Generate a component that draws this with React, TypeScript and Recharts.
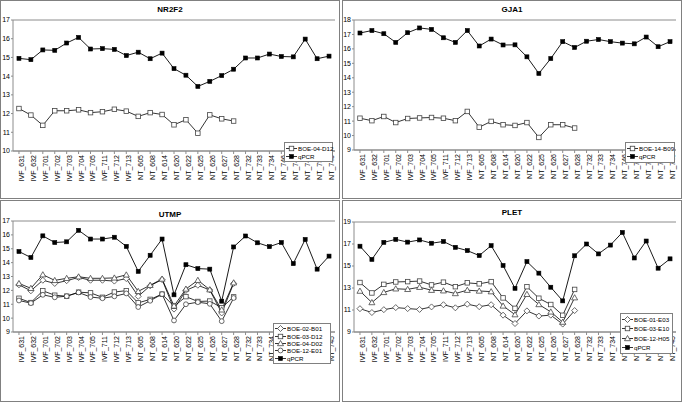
import React from 'react';
import {
  LineChart,
  Line,
  XAxis,
  YAxis,
  CartesianGrid,
  Legend,
} from 'recharts';

const categories = [
  'IVF_631', 'IVF_632', 'IVF_701', 'IVF_702', 'IVF_703', 'IVF_704', 'IVF_705',
  'IVF_711', 'IVF_712', 'IVF_713', 'NT_605', 'NT_608', 'NT_614', 'NT_620',
  'NT_622', 'NT_625', 'NT_626', 'NT_627', 'NT_628', 'NT_732', 'NT_733',
  'NT_734', 'NT_746', 'NT_747', 'NT_749', 'NT_750', 'NT_745',
];

// NR2F2
const nr2f2Qpcr = [
  14.95, 14.88, 15.4, 15.38, 15.77, 16.07, 15.45, 15.47, 15.43, 15.1, 15.28, 14.93, 15.23, 14.4,
  14.05, 13.45, 13.72, 14.03, 14.37, 14.97, 14.97, 15.18, 15.05, 15.03, 15.98, 14.93, 15.07,
];
const nr2f2Boe04D12 = [
  12.27, 11.92, 11.37, 12.15, 12.15, 12.2, 12.05, 12.1, 12.23, 12.13, 11.85, 12.05, 11.95, 11.4,
  11.67, 10.95, 11.93, 11.72, 11.6,
];

// GJA1
const gja1Qpcr = [
  17.1, 17.27, 17.05, 16.45, 17.12, 17.45, 17.35, 16.77, 16.45, 17.27, 16.2, 16.68, 16.27, 16.28,
  15.45, 14.3, 15.33, 16.5, 16.1, 16.53, 16.65, 16.5, 16.4, 16.35, 16.82, 16.15, 16.5,
];
const gja1Boe14B09 = [
  11.2, 11.03, 11.32, 10.9, 11.18, 11.22, 11.25, 11.2, 11.03, 11.67, 10.58, 10.98, 10.75, 10.7,
  10.9, 9.87, 10.75, 10.75, 10.52,
];

// UTMP
const utmpQpcr = [
  14.8, 14.37, 15.93, 15.45, 15.5, 16.33, 15.7, 15.7, 15.83, 15.17, 13.37, 14.53, 15.7, 11.68,
  13.85, 13.57, 13.53, 11.22, 15.13, 15.92, 15.43, 15.15, 15.45, 13.93, 15.67, 13.53, 14.47,
];
const utmpBoe02B01 = [
  12.4, 11.97, 12.73, 12.5, 12.7, 12.93, 12.73, 12.73, 12.67, 12.85, 11.57, 12.33, 12.78, 10.65,
  12.0, 12.37, 12.03, 10.37, 12.5,
];
const utmpBoe03D12 = [
  11.43, 11.12, 11.97, 11.65, 11.58, 11.87, 11.82, 11.5, 11.88, 11.98, 11.1, 11.35, 11.73, 10.85,
  11.55, 11.2, 11.23, 10.75, 11.53,
];
const utmpBoe04D02 = [
  12.5, 12.15, 13.13, 12.72, 12.87, 12.98, 12.87, 12.87, 12.9, 13.12, 11.93, 12.37, 12.82, 10.88,
  12.1, 12.73, 12.05, 10.6, 12.55,
];
const utmpBoe12E01 = [
  11.27, 11.08, 11.68, 11.5, 11.58, 11.85, 11.52, 11.43, 11.57, 11.78, 10.8, 11.25, 11.73, 9.83,
  11.0, 11.15, 11.03, 9.78, 11.45,
];

// PLET
const pletQpcr = [
  16.8, 15.6, 17.15, 17.42, 17.17, 17.37, 17.07, 17.23, 16.7, 16.4, 15.95, 16.85, 15.05, 12.97,
  15.4, 14.35, 13.07, 11.83, 15.93, 17.0, 16.1, 16.9, 18.05, 15.73, 17.27, 14.8, 15.65,
];
const pletBoe01E03 = [
  11.12, 10.77, 11.03, 11.22, 11.13, 11.05, 11.28, 11.48, 11.2, 11.53, 11.3, 11.48, 10.53, 9.77,
  10.92, 10.45, 10.53, 9.72, 10.95,
];
const pletBoe03E10 = [
  13.5, 12.55, 13.33, 13.55, 13.58, 13.63, 13.28, 13.53, 13.12, 13.47, 13.38, 13.58, 12.1, 11.15,
  13.12, 12.07, 11.5, 10.52, 12.87,
];
const pletBoe12H05 = [
  12.72, 11.68, 12.6, 12.93, 12.88, 13.07, 12.8, 12.75, 12.5, 12.8, 12.73, 12.67, 11.37, 10.58,
  12.43, 11.5, 10.83, 9.9, 12.12,
];

type Shape = 'square' | 'diamond' | 'triangle' | 'circle';

interface Series {
  name: string;
  values: number[];
  shape: Shape;
  filled: boolean;
}

const FONT = '"Liberation Sans", Arial, sans-serif';
const GRID = '#8c8c8c';

const Marker = ({ cx, cy, shape, filled }: { cx: number; cy: number; shape: Shape; filled: boolean }) => {
  const fill = filled ? '#000' : '#fff';
  const stroke = filled ? '#000' : '#444';
  if (shape === 'square') {
    const s = filled ? 4 : 4.5;
    return <rect x={cx - s / 2} y={cy - s / 2} width={s} height={s} fill={fill} stroke={stroke} strokeWidth={filled ? 0.6 : 0.8} />;
  }
  if (shape === 'diamond') {
    return (
      <polygon
        points={`${cx},${cy - 3} ${cx + 3},${cy} ${cx},${cy + 3} ${cx - 3},${cy}`}
        fill={fill}
        stroke={stroke}
        strokeWidth={0.8}
      />
    );
  }
  if (shape === 'triangle') {
    return (
      <polygon
        points={`${cx},${cy - 3} ${cx + 3},${cy + 2.2} ${cx - 3},${cy + 2.2}`}
        fill={fill}
        stroke={stroke}
        strokeWidth={0.8}
      />
    );
  }
  return <circle cx={cx} cy={cy} r={2.4} fill={fill} stroke={stroke} strokeWidth={0.8} />;
};

const makeDot = (shape: Shape, filled: boolean) => (p: any) => {
  if (p.cx == null || p.cy == null || p.value == null || Number.isNaN(p.cy)) {
    return <g key={`d-${p.index}`} />;
  }
  return (
    <g key={`d-${p.index}`}>
      <Marker cx={p.cx} cy={p.cy} shape={shape} filled={filled} />
    </g>
  );
};

interface PanelProps {
  left: number;
  top: number;
  width: number;
  height: number;
  title: string;
  titleY: number;
  domain: [number, number];
  series: Series[];
  plotLeft: number;
  plotTop: number;
  plotBottom: number;
  plotRight: number;
  legendBox: { x: number; y: number; w: number; h: number };
}

const Panel: React.FC<PanelProps> = ({
  left, top, width, height, title, titleY, domain, series,
  plotLeft, plotTop, plotBottom, plotRight, legendBox,
}) => {
  const chartW = width - 2;
  const chartH = height - 2;
  const data = categories.map((c, i) => {
    const row: Record<string, string | number | null> = { name: c };
    series.forEach((s) => {
      row[s.name] = i < s.values.length ? s.values[i] : null;
    });
    return row;
  });
  const ticks: number[] = [];
  for (let v = domain[0]; v <= domain[1]; v++) ticks.push(v);

  const renderLegend = () => (
    <div
      style={{
        width: legendBox.w,
        height: legendBox.h,
        border: '1px solid #808080',
        background: '#fff',
        boxSizing: 'border-box',
        padding: '1px 1px',
        display: 'flex',
        flexDirection: 'column',
        justifyContent: 'space-around',
      }}
    >
      {series.map((s) => (
        <div
          key={s.name}
          style={{
            display: 'flex',
            alignItems: 'center',
            fontSize: 6.2,
            fontFamily: FONT,
            lineHeight: '7px',
            whiteSpace: 'nowrap',
          }}
        >
          <svg width={11} height={7} style={{ marginRight: 1, flex: 'none' }}>
            <line x1={0} y1={3.5} x2={11} y2={3.5} stroke="#000" strokeWidth={0.8} />
            <Marker cx={5.5} cy={3.5} shape={s.shape} filled={s.filled} />
          </svg>
          <span>{s.name}</span>
        </div>
      ))}
    </div>
  );

  return (
    <div
      style={{
        position: 'absolute',
        left,
        top,
        width,
        height,
        border: '1px solid #808080',
        boxSizing: 'border-box',
        background: '#fff',
      }}
    >
      <div
        style={{
          position: 'absolute',
          left: 0,
          width: chartW,
          top: titleY - 5,
          textAlign: 'center',
          fontFamily: FONT,
          fontWeight: 'bold',
          fontSize: 8,
          lineHeight: '10px',
        }}
      >
        {title}
      </div>
      <LineChart
        width={chartW}
        height={chartH}
        data={data}
        margin={{ top: plotTop, right: chartW - plotRight, left: 0, bottom: 0 }}
      >
        <CartesianGrid stroke={GRID} vertical={false} horizontal />
        <XAxis
          dataKey="name"
          scale="band"
          interval={0}
          height={chartH - plotBottom}
          tick={{ fontSize: 7, fill: '#000', fontFamily: FONT }}
          angle={-90}
          textAnchor="end"
          tickSize={3}
          tickMargin={1}
          tickLine={{ stroke: GRID }}
          axisLine={{ stroke: GRID }}
        />
        <YAxis
          yAxisId="l"
          domain={domain}
          ticks={ticks}
          width={plotLeft}
          tick={{ fontSize: 7, fill: '#000', fontFamily: FONT }}
          tickSize={2}
          tickMargin={1}
          tickLine={{ stroke: GRID }}
          axisLine={{ stroke: GRID }}
          allowDataOverflow
        />
        <YAxis
          yAxisId="r"
          orientation="right"
          domain={domain}
          width={0}
          tick={false}
          tickLine={false}
          axisLine={{ stroke: GRID }}
        />
        <Legend
          content={renderLegend}
          wrapperStyle={{
            position: 'absolute',
            left: legendBox.x,
            top: legendBox.y,
            width: legendBox.w,
            height: legendBox.h,
            bottom: 'auto',
          }}
        />
        {series.map((s) => (
          <Line
            key={s.name}
            yAxisId="l"
            type="linear"
            dataKey={s.name}
            name={s.name}
            stroke="#000"
            strokeWidth={s.filled ? 0.9 : 0.8}
            dot={makeDot(s.shape, s.filled)}
            activeDot={false}
            connectNulls={false}
            isAnimationActive={false}
          />
        ))}
      </LineChart>
    </div>
  );
};

const App: React.FC = () => {
  return (
    <div style={{ position: 'absolute', left: 0, top: 0, width: 682, height: 402, background: '#fff' }}>
      <Panel
        left={0}
        top={0}
        width={340}
        height={199}
        title="NR2F2"
        titleY={9}
        domain={[10, 17]}
        plotLeft={12}
        plotTop={19}
        plotBottom={170}
        plotRight={334}
        legendBox={{ x: 283, y: 141, w: 49, h: 20 }}
        series={[
          { name: 'BOE-04-D12', values: nr2f2Boe04D12, shape: 'square', filled: false },
          { name: 'qPCR', values: nr2f2Qpcr, shape: 'square', filled: true },
        ]}
      />
      <Panel
        left={342}
        top={0}
        width={340}
        height={199}
        title="GJA1"
        titleY={9}
        domain={[9, 18]}
        plotLeft={11}
        plotTop={19}
        plotBottom={170}
        plotRight={333}
        legendBox={{ x: 282, y: 141, w: 50, h: 21 }}
        series={[
          { name: 'BOE-14-B09', values: gja1Boe14B09, shape: 'square', filled: false },
          { name: 'qPCR', values: gja1Qpcr, shape: 'square', filled: true },
        ]}
      />
      <Panel
        left={0}
        top={200}
        width={340}
        height={202}
        title="UTMP"
        titleY={14}
        domain={[9, 17]}
        plotLeft={12}
        plotTop={20}
        plotBottom={172}
        plotRight={334}
        legendBox={{ x: 272, y: 122, w: 58, h: 41 }}
        series={[
          { name: 'BOE-02-B01', values: utmpBoe02B01, shape: 'diamond', filled: false },
          { name: 'BOE-03-D12', values: utmpBoe03D12, shape: 'square', filled: false },
          { name: 'BOE-04-D02', values: utmpBoe04D02, shape: 'triangle', filled: false },
          { name: 'BOE-12-E01', values: utmpBoe12E01, shape: 'circle', filled: false },
          { name: 'qPCR', values: utmpQpcr, shape: 'square', filled: true },
        ]}
      />
      <Panel
        left={342}
        top={200}
        width={340}
        height={202}
        title="PLET"
        titleY={12}
        domain={[9, 19]}
        plotLeft={11}
        plotTop={21}
        plotBottom={172}
        plotRight={333}
        legendBox={{ x: 277, y: 112, w: 53, h: 41 }}
        series={[
          { name: 'BOE-01-E03', values: pletBoe01E03, shape: 'diamond', filled: false },
          { name: 'BOE-03-E10', values: pletBoe03E10, shape: 'square', filled: false },
          { name: 'BOE-12-H05', values: pletBoe12H05, shape: 'triangle', filled: false },
          { name: 'qPCR', values: pletQpcr, shape: 'square', filled: true },
        ]}
      />
    </div>
  );
};

export default App;
